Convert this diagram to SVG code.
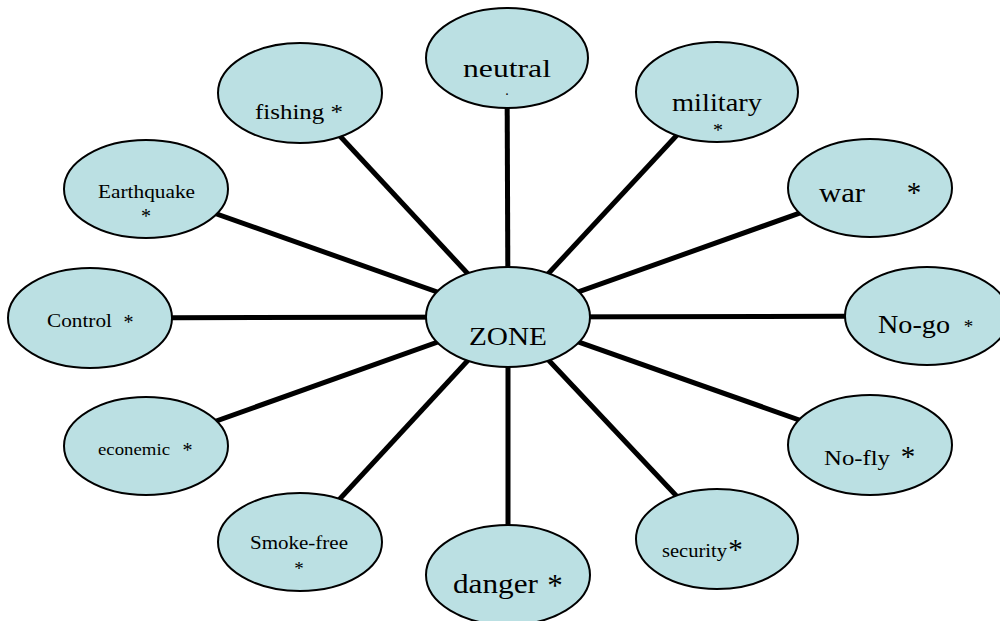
<svg xmlns="http://www.w3.org/2000/svg" width="1000" height="621" viewBox="0 0 1000 621">
<defs>
<style>
.n{fill:#BBE0E3;stroke:#000;stroke-width:2}
.t{font-family:"Liberation Serif","Times New Roman",serif;fill:#000}
.c{stroke:#000;stroke-width:5;fill:none}
</style>
<clipPath id="milclip"><rect x="700" y="124" width="40" height="10"/></clipPath>
</defs>
<rect width="1000" height="621" fill="#fff"/>
<g id="connectors">
<line class="c" x1="508" y1="317" x2="507" y2="58"/>
<line class="c" x1="508" y1="317" x2="717" y2="92"/>
<line class="c" x1="508" y1="317" x2="300" y2="93"/>
<line class="c" x1="508" y1="317" x2="146" y2="189"/>
<line class="c" x1="508" y1="317" x2="870" y2="188"/>
<line class="c" x1="508" y1="317" x2="90" y2="318"/>
<line class="c" x1="508" y1="317" x2="927" y2="316"/>
<line class="c" x1="508" y1="317" x2="146" y2="446"/>
<line class="c" x1="508" y1="317" x2="870" y2="445"/>
<line class="c" x1="508" y1="317" x2="300" y2="542"/>
<line class="c" x1="508" y1="317" x2="717" y2="539"/>
<line class="c" x1="508" y1="317" x2="508" y2="575"/>
</g>
<g id="neutral">
<ellipse class="n" cx="507" cy="58" rx="81" ry="50"/>
<text class="t" x="463" y="77" font-size="26" textLength="88" lengthAdjust="spacingAndGlyphs">neutral</text>
<text class="t" x="507" y="95" font-size="14" text-anchor="middle">.</text>
</g>
<g id="military">
<ellipse class="n" cx="717" cy="92" rx="81" ry="50"/>
<text class="t" x="672" y="111" font-size="25" textLength="90" lengthAdjust="spacingAndGlyphs">military</text>
<text class="t" x="718" y="137" font-size="20" text-anchor="middle" clip-path="url(#milclip)">*</text>
</g>
<g id="fishing">
<ellipse class="n" cx="300" cy="93" rx="82" ry="50"/>
<text class="t" x="255" y="119" font-size="22" textLength="88" lengthAdjust="spacingAndGlyphs">fishing *</text>
</g>
<g id="earthquake">
<ellipse class="n" cx="146" cy="189" rx="82" ry="49"/>
<text class="t" x="98" y="198" font-size="18" textLength="97" lengthAdjust="spacingAndGlyphs">Earthquake</text>
<text class="t" x="146" y="223" font-size="20" text-anchor="middle">*</text>
</g>
<g id="war">
<ellipse class="n" cx="870" cy="188" rx="82" ry="49"/>
<text class="t" x="819" y="202" font-size="27" textLength="46" lengthAdjust="spacingAndGlyphs">war</text>
<text class="t" x="914" y="202" font-size="29" text-anchor="middle">*</text>
</g>
<g id="control">
<ellipse class="n" cx="90" cy="318" rx="82" ry="50"/>
<text class="t" x="47" y="327" font-size="18" textLength="65" lengthAdjust="spacingAndGlyphs">Control</text>
<text class="t" x="128.500" y="329" font-size="20" text-anchor="middle">*</text>
</g>
<g id="zone">
<ellipse class="n" cx="508" cy="317" rx="82" ry="50"/>
<text class="t" x="469" y="345" font-size="25" textLength="78" lengthAdjust="spacingAndGlyphs">ZONE</text>
</g>
<g id="nogo">
<ellipse class="n" cx="927" cy="316" rx="82" ry="49"/>
<text class="t" x="878" y="333" font-size="25" textLength="72" lengthAdjust="spacingAndGlyphs">No-go</text>
<text class="t" x="968.500" y="333" font-size="19" text-anchor="middle">*</text>
</g>
<g id="econemic">
<ellipse class="n" cx="146" cy="446" rx="82" ry="49"/>
<text class="t" x="98" y="455" font-size="17" textLength="72" lengthAdjust="spacingAndGlyphs">econemic</text>
<text class="t" x="187.500" y="457" font-size="20" text-anchor="middle">*</text>
</g>
<g id="nofly">
<ellipse class="n" cx="870" cy="445" rx="82" ry="50"/>
<text class="t" x="824" y="465" font-size="22" textLength="66" lengthAdjust="spacingAndGlyphs">No-fly</text>
<text class="t" x="908" y="466" font-size="29" text-anchor="middle">*</text>
</g>
<g id="smokefree">
<ellipse class="n" cx="300" cy="542" rx="82" ry="49"/>
<text class="t" x="250" y="549" font-size="18" textLength="98" lengthAdjust="spacingAndGlyphs">Smoke-free</text>
<text class="t" x="299" y="575" font-size="19" text-anchor="middle">*</text>
</g>
<g id="security">
<ellipse class="n" cx="717" cy="539" rx="81" ry="50"/>
<text class="t" x="662" y="557" font-size="18" textLength="65" lengthAdjust="spacingAndGlyphs">security</text>
<text class="t" x="735.500" y="559" font-size="29" text-anchor="middle">*</text>
</g>
<g id="danger">
<ellipse class="n" cx="508" cy="575" rx="82" ry="50"/>
<text class="t" x="453" y="593" font-size="27" textLength="85" lengthAdjust="spacingAndGlyphs">danger</text>
<text class="t" x="555" y="596" font-size="31" text-anchor="middle">*</text>
</g>
</svg>
